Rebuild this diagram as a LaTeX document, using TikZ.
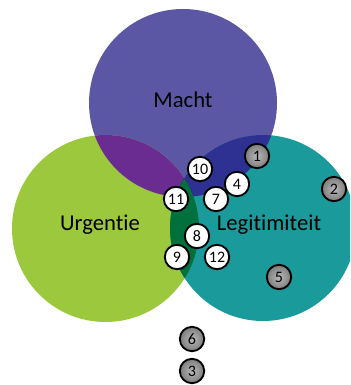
\documentclass[tikz,border=0pt]{standalone}
\usepackage{fontspec}
\setmainfont{Carlito}[Ligatures={NoCommon,NoRare,NoContextual}]
\definecolor{machtc}{RGB}{91,87,164}
\definecolor{urgc}{RGB}{155,200,60}
\definecolor{legc}{RGB}{26,154,154}
\definecolor{muc}{RGB}{106,44,145}
\definecolor{mlc}{RGB}{46,49,146}
\definecolor{ulc}{RGB}{0,112,60}
\definecolor{mulc}{RGB}{35,31,32}
\definecolor{grayin}{RGB}{185,185,185}
\definecolor{grayout}{RGB}{125,125,125}
\begin{document}
\begin{tikzpicture}[x=0.75pt,y=-0.75pt,
  setlabel/.style={font=\fontsize{17}{20}\selectfont, text=black},
  numbase/.style={circle, draw=black, line width=1.4pt, minimum size=18.3pt, inner sep=0pt, font=\fontsize{12}{14}\selectfont},
  numw/.style={numbase, fill=white},
  numg/.style={numbase, inner color=grayin, outer color=grayout}]
\useasboundingbox (0,0) rectangle (350,385);
\begin{scope}
\clip (0,0) rectangle (350,385);
\fill[machtc] (183,103) circle[radius=94];
\fill[urgc] (105.5,228.5) circle[radius=93.5];
\fill[legc] (263,228) circle[radius=93];
\begin{scope}
  \clip (183,103) circle[radius=94];
  \fill[muc] (105.5,228.5) circle[radius=93.5];
  \fill[mlc] (263,228) circle[radius=93];
  \clip (105.5,228.5) circle[radius=93.5];
  \fill[mulc] (263,228) circle[radius=93];
\end{scope}
\begin{scope}
  \clip (105.5,228.5) circle[radius=93.5];
  \clip (263,228) circle[radius=93];
  \fill[ulc] (0,110) rectangle (350,385);
\end{scope}
\end{scope}
\node[setlabel] (macht) at (183,100) {Macht};
\node[setlabel] (urg) at (100,225) {Urgentie};
\node[setlabel] (leg) at (269,225) {Legitimiteit};
\node[numg] (n1) at (257,156) {1};
\node[numg] (n2) at (334,189) {2};
\node[numg] (n5) at (279,277) {5};
\node[numg] (n6) at (192,339) {6};
\node[numg] (n3) at (192,371) {3};
\node[numw] (n10) at (200,169) {10};
\node[numw] (n4) at (237,184) {4};
\node[numw] (n11) at (176,199) {11};
\node[numw] (n7) at (216,199) {7};
\node[numw] (n8) at (197,236) {8};
\node[numw] (n9) at (177,257) {9};
\node[numw] (n12) at (217,257) {12};
\end{tikzpicture}
\end{document}
